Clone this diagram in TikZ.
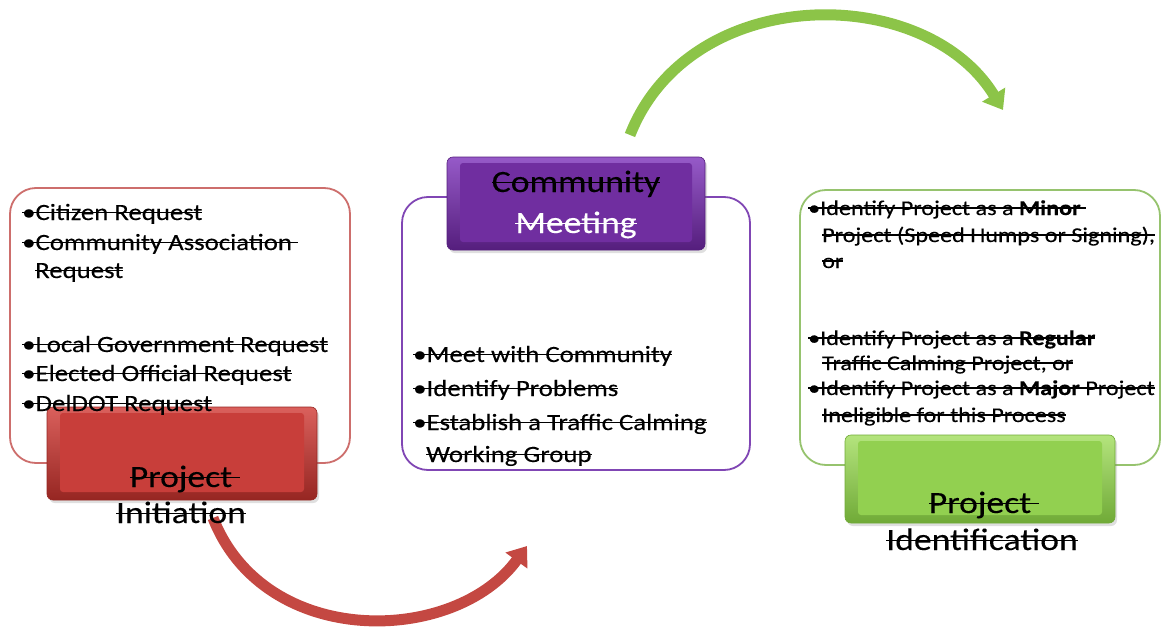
\documentclass[tikz,border=0pt]{standalone}
\usepackage{fontspec}
\setmainfont{Carlito}[FakeStretch=1.15, FakeBold=0.15]
\newsavebox{\strkbox}
\newcommand{\strk}[1]{\sbox{\strkbox}{#1}\rlap{\usebox{\strkbox}}\rule[0.28em]{\wd\strkbox}{1.7pt}}
\usetikzlibrary{arrows.meta,shadows}
\definecolor{redline}{RGB}{205,110,108}
\definecolor{purpline}{RGB}{128,70,180}
\definecolor{greenline}{RGB}{150,195,110}
\definecolor{redmain}{RGB}{200,62,58}
\definecolor{redtop}{RGB}{218,96,92}
\definecolor{redbot}{RGB}{150,38,34}
\definecolor{purpmain}{RGB}{112,46,160}
\definecolor{purptop}{RGB}{150,90,200}
\definecolor{purpbot}{RGB}{85,30,125}
\definecolor{grnmain}{RGB}{146,208,80}
\definecolor{grntop}{RGB}{180,228,125}
\definecolor{grnbot}{RGB}{112,170,55}
\definecolor{redarrow}{RGB}{196,72,66}
\definecolor{grnarrow}{RGB}{140,196,72}
\tikzset{
  outbox/.style={draw=#1, line width=1.8pt, rounded corners=26pt, fill=white,
    inner sep=0pt, outer sep=0pt},
  btn/.style n args={3}{rounded corners=6pt, inner sep=0pt, outer sep=0pt,
    top color=#2, bottom color=#3, draw=#3, line width=0.6pt,
    drop shadow={opacity=0.25, shadow xshift=2pt, shadow yshift=-3pt},
    path picture={\fill[#1, rounded corners=3pt]
      ([xshift=13pt,yshift=-6pt]path picture bounding box.north west) rectangle
      ([xshift=-13pt,yshift=8pt]path picture bounding box.south east);}},
  lt/.style={anchor=base west, inner sep=0pt, font=\fontsize{23.3}{28}\selectfont},
  rt/.style={anchor=base west, inner sep=0pt, font=\fontsize{21}{24}\selectfont},
  bt/.style={anchor=base, inner sep=0pt, font=\fontsize{31}{36}\selectfont},
  bigarrow/.style={line width=11pt, -{Triangle[width=26pt,length=18pt]}, draw=#1}
}
\begin{document}
\begin{tikzpicture}[x=1pt,y=-1pt]
\useasboundingbox (0,0) rectangle (1163,629);
% outline boxes
\node[outbox=redline, minimum width=340pt, minimum height=275pt] (lbox) at (180,325.5) {};
\node[outbox=purpline, minimum width=348pt, minimum height=273pt] (mbox) at (576,333.5) {};
\node[outbox=greenline, minimum width=360pt, minimum height=275pt] (rbox) at (980,327.5) {};
% buttons
\node[btn={redmain}{redtop}{redbot}, minimum width=270pt, minimum height=93pt] (lbtn) at (182,453.5) {};
\node[btn={purpmain}{purptop}{purpbot}, minimum width=258pt, minimum height=93pt] (mbtn) at (576,203.5) {};
\node[btn={grnmain}{grntop}{grnbot}, minimum width=270pt, minimum height=88pt] (rbtn) at (980,479) {};
% arrows
\coordinate (ra0) at (213,518);
\coordinate (ra1) at (527,546);
\coordinate (ga0) at (630,135);
\coordinate (ga1) at (1003,110);
\draw[bigarrow=redarrow] (ra0) .. controls (265,650) and (455,645) .. (ra1);
\draw[bigarrow=grnarrow] (ga0) .. controls (690,-18) and (925,-18) .. (ga1);
% left texts
\node[lt] (l1) at (22,220) {\strk{\textbullet Citizen Request}};
\node[lt] (l2) at (22,250) {\strk{\textbullet Community Association\ }};
\node[lt] (l3) at (35,278) {\strk{Request}};
\node[lt] (l4) at (22,352) {\strk{\textbullet Local Government Request}};
\node[lt] (l5) at (22,381) {\strk{\textbullet Elected Official Request}};
\node[lt] (l6) at (22,411) {\strk{\textbullet DelDOT Request}};
% middle texts
\node[lt] (m1) at (413,362) {\strk{\textbullet Meet with Community}};
\node[lt] (m2) at (413,396) {\strk{\textbullet Identify Problems}};
\node[lt] (m3) at (413,430) {\strk{\textbullet Establish a Traffic Calming}};
\node[lt] (m4) at (426,462) {\strk{Working Group}};
% right texts
\node[rt] (r1) at (808,215) {\strk{\textbullet Identify Project as a \textbf{Minor}\ }};
\node[rt] (r2) at (822,242) {\strk{Project (Speed Humps or Signing),}};
\node[rt] (r3) at (822,268) {\strk{or}};
\node[rt] (r4) at (808,345) {\strk{\textbullet Identify Project as a \textbf{Regular}}};
\node[rt] (r5) at (822,370) {\strk{Traffic Calming Project, or}};
\node[rt] (r6) at (808,395) {\strk{\textbullet Identify Project as a \textbf{Major} Project}};
\node[rt] (r7) at (822,422) {\strk{Ineligible for this Process}};
% button texts
\node[bt] (lt1) at (185,487) {\strk{Project\ }};
\node[bt] (lt2) at (181,523) {\strk{Initiation}};
\node[bt] (mt1) at (576,192) {\strk{Community}};
\node[bt, text=white] (mt2) at (576,233) {\strk{Meeting}};
\node[bt] (rt1) at (984,513) {\strk{Project\ }};
\node[bt] (rt2) at (982,550) {\strk{Identification}};
\end{tikzpicture}
\end{document}
